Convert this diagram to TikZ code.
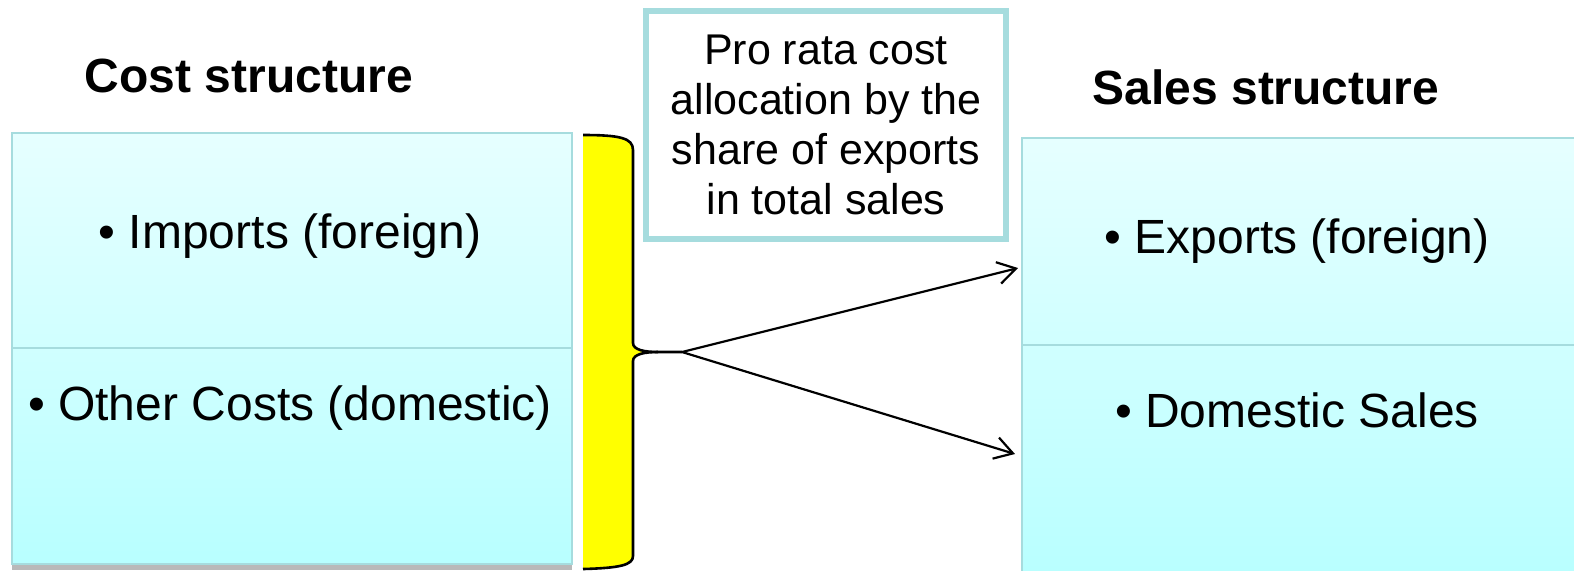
\documentclass[tikz,border=0pt]{standalone}
\usepackage{fontspec}
\setmainfont{Liberation Sans}
\usetikzlibrary{arrows.meta, calc, positioning}
\definecolor{boxline}{RGB}{166,220,222}
\definecolor{celltop}{RGB}{230,255,255}
\definecolor{cellmid}{RGB}{208,255,255}
\definecolor{cellbot}{RGB}{184,255,255}
\definecolor{braceyellow}{RGB}{255,255,0}

\begin{document}
\begin{tikzpicture}[x=0.5pt, y=-0.5pt, >={Straight Barb[length=9pt,width=11pt]},
  cell/.style={draw=boxline, line width=1pt, inner sep=0pt, outer sep=0pt},
  upper/.style={cell, top color=celltop, bottom color=cellmid},
  lower/.style={cell, top color=cellmid, bottom color=cellbot},
  item/.style={font=\fontsize{24}{28}\selectfont},
  heading/.style={font=\fontsize{24}{28}\selectfont\bfseries}]

\useasboundingbox (0,0) rectangle (1574,570);

% cost side
\node[heading] (costhead) at (249,76) {Cost structure};
\fill[gray!55] (12,565) rectangle (572,570);
\node[upper, minimum width=280pt, minimum height=107.5pt] (imports) at (292,240.5) {};
\node[lower, minimum width=280pt, minimum height=108pt, below=0pt of imports] (other) {};
\node[item] (importstxt) at (290,236) {• Imports (foreign)};
\node[item] (othertxt) at (290,408) {• Other Costs (domestic)};

% sales side
\node[heading] (saleshead) at (1266,87) {Sales structure};
\node[upper, minimum width=279pt, minimum height=103.5pt] (exports) at (1301,241.5) {};
\node[lower, minimum width=279pt, minimum height=117.5pt, below=0pt of exports] (domestic) {};
\node[item] (exportstxt) at (1297,241) {• Exports (foreign)};
\node[item] (domestictxt) at (1297,410) {• Domestic Sales};

% allocation note
\node[draw=boxline, line width=3pt, fill=white, minimum width=180pt, minimum height=114pt,
  inner sep=0pt, align=center, font=\fontsize{21.5}{25}\selectfont] (prorata) at (826,125)
  {Pro rata cost\\allocation by the\\share of exports\\in total sales};

% brace
\fill[braceyellow] (583,135) .. controls (620,135) and (633,138) .. (633,150) -- (633,343)
  .. controls (633,350) and (645,352) .. (658,352)
  .. controls (645,352) and (633,354) .. (633,361) -- (633,556)
  .. controls (633,565) and (620,568) .. (583,569) -- cycle;
\draw[line width=1.3pt] (583,135) .. controls (620,135) and (633,138) .. (633,150) -- (633,343)
  .. controls (633,350) and (645,352) .. (658,352) -- (682,352);
\draw[line width=1.3pt] (658,352) .. controls (645,352) and (633,354) .. (633,361) -- (633,556)
  .. controls (633,565) and (620,568) .. (583,569);
\coordinate (tip) at (682,352);

% arrows
\coordinate (expend) at (1018,268);
\coordinate (domend) at (1015,454);
\draw[->, line width=1.1pt] (tip) -- (expend);
\draw[->, line width=1.1pt] (tip) -- (domend);

\end{tikzpicture}
\end{document}
